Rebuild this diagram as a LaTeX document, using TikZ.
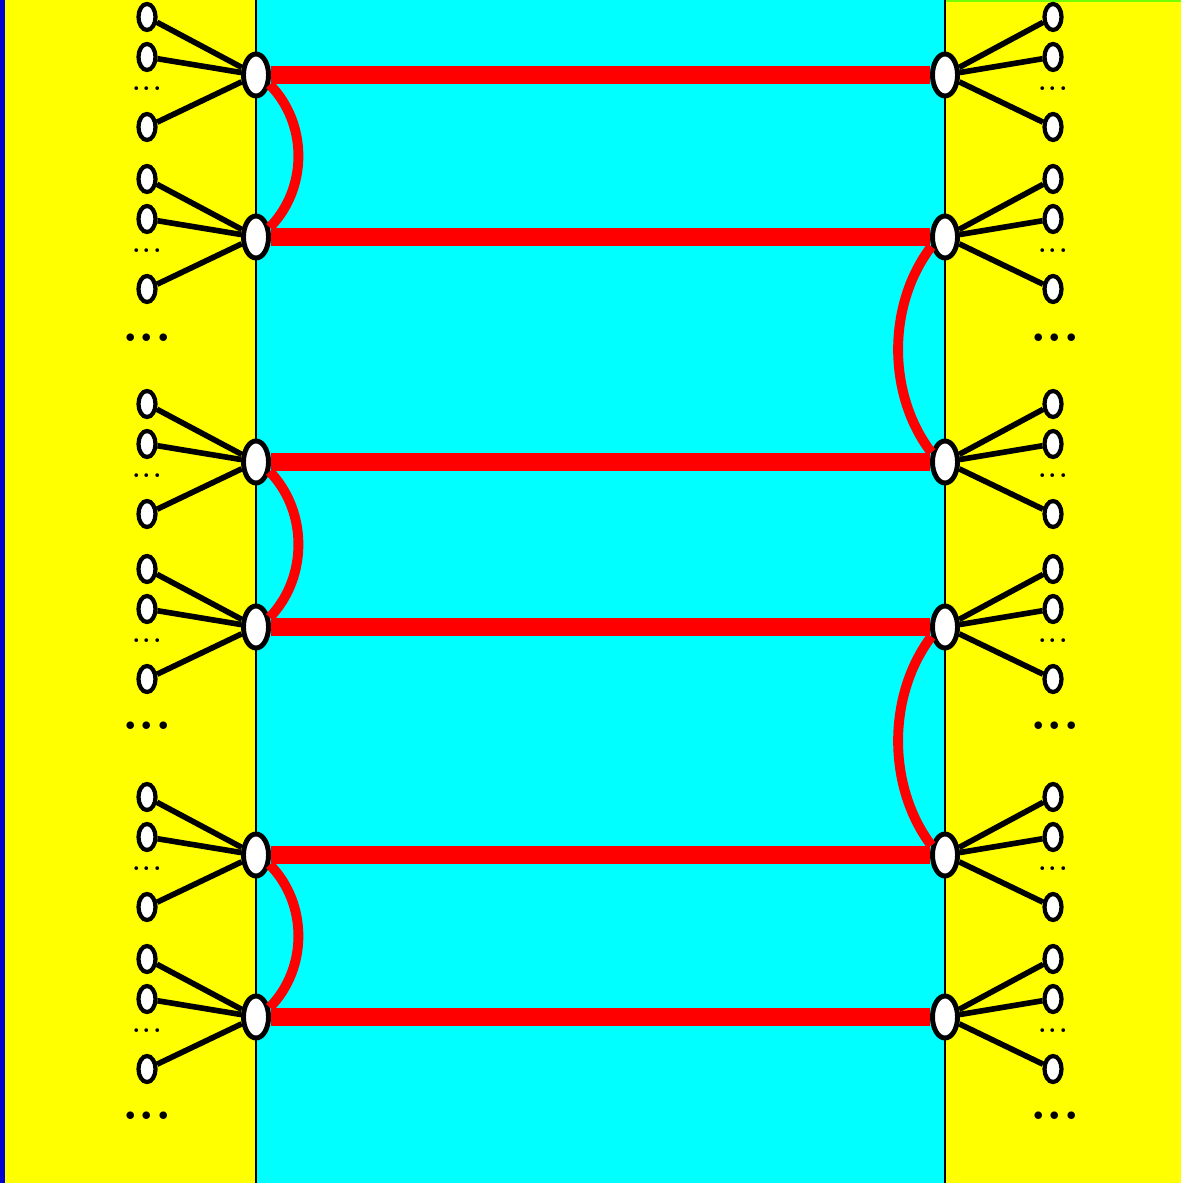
\documentclass[tikz,border=0pt]{standalone}
\usetikzlibrary{shapes.geometric,calc}
\definecolor{shore}{RGB}{255,255,0}
\definecolor{sea}{RGB}{0,255,255}
\definecolor{wire}{RGB}{255,0,0}
\definecolor{edgeblue}{RGB}{0,0,210}

\begin{document}
\begin{tikzpicture}[x=0.01cm,y=-0.01cm,
    hub/.style={ellipse,draw=black,line width=1.4pt,fill=white,minimum width=0.25cm,minimum height=0.42cm,inner sep=0pt},
    leaf/.style={ellipse,draw=black,line width=1.2pt,fill=white,minimum width=0.17cm,minimum height=0.26cm,inner sep=0pt},
    spoke/.style={line width=1.6pt},
    bridge/.style={wire,line width=5.2pt},
    bow/.style={wire,line width=2.8pt},
    fewdots/.style={inner sep=0pt,font=\fontsize{11}{11}\selectfont},
    moredots/.style={inner sep=0pt,font=\fontsize{15}{15}\selectfont\bfseries}]
        \useasboundingbox (0,0) rectangle (1181,1183);

        % Draw the bands
        \fill[edgeblue] (0,0) rectangle (5,1183);
        \fill[shore] (5,0) rectangle (256,1183);
        \fill[sea] (256,0) rectangle (945,1183);
        \fill[shore] (945,0) rectangle (1181,1183);
        \fill[green!55!yellow] (945,0) rectangle (1181,2);
        \draw[thin] (256,0) -- (256,1183);
        \draw[thin] (945,0) -- (945,1183);

        % The hubs with their leaves
        \foreach \i/\h in {1/75,2/237,3/462,4/627,5/855,6/1017} {
            \node[hub] (L\i) at (256,\h) {};
            \node[hub] (R\i) at (945,\h) {};
            \foreach \s/\d in {a/-58,b/-18,c/52} {
                \node[leaf] (L\i\s) at (147,{\h+\d}) {};
                \node[leaf] (R\i\s) at (1053,{\h+\d}) {};
                \draw[spoke] (L\i\s) -- (L\i);
                \draw[spoke] (R\i\s) -- (R\i);
            }
            \node[fewdots] (L\i d) at (147,{\h+14}) {...};
            \node[fewdots] (R\i d) at (1053,{\h+14}) {...};
            \draw[bridge] (L\i) -- (R\i);
        }

        % Gaps between the groups
        \foreach \j/\h in {1/338,2/726,3/1116} {
            \node[moredots] (Lg\j) at (147,\h) {...};
            \node[moredots] (Rg\j) at (1055,\h) {...};
        }

        % Bows on the left
        \foreach \a/\b in {1/2,3/4,5/6}
            \draw[bow] (L\a.-35) .. controls ($(L\a)!0.3!(L\b)+(52,0)$) and ($(L\a)!0.7!(L\b)+(52,0)$) .. (L\b.35);

        % Bows on the right
        \foreach \a/\b in {2/3,4/5}
            \draw[bow] (R\a.-145) .. controls ($(R\a)!0.3!(R\b)+(-58,0)$) and ($(R\a)!0.7!(R\b)+(-58,0)$) .. (R\b.145);
    \end{tikzpicture}
\end{document}
